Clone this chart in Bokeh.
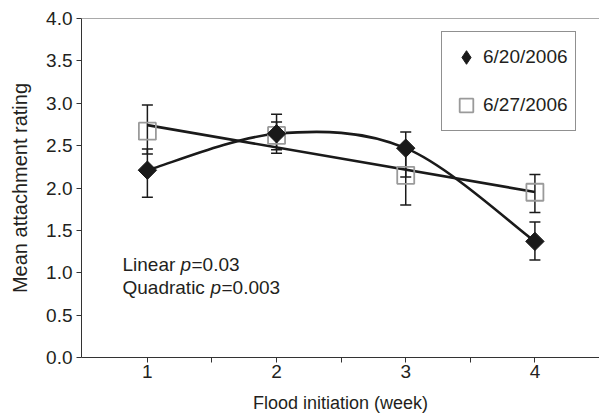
import numpy as np
from bokeh.plotting import figure
from bokeh.models import (Range1d, FixedTicker, Whisker, TeeHead, ColumnDataSource,
                          Legend, LegendItem, Label, Span, PrintfTickFormatter)
from bokeh.embed import file_html
from bokeh.resources import INLINE

# ---- data ----
weeks = [1, 2, 3, 4]
d620_mean = [2.21, 2.64, 2.47, 1.37]
d620_upper = [2.46, 2.87, 2.66, 1.60]
d620_lower = [1.89, 2.41, 2.13, 1.15]
d627_mean = [2.67, 2.62, 2.15, 1.95]
d627_upper = [2.98, 2.78, 2.50, 2.16]
d627_lower = [2.40, 2.45, 1.80, 1.71]
series_names = ["6/20/2006", "6/27/2006"]
y_ticks = [0, 0.5, 1, 1.5, 2, 2.5, 3, 3.5, 4]
x_ticks = [1, 2, 3, 4]
x_minor = [1.5, 2.5, 3.5]
stats_text = [("Linear ", "p", "=0.03"), ("Quadratic ", "p", "=0.003")]

FONT = "Liberation Sans"
TXT = "#231f20"
BLK = "#1a1a1a"
GRAY = "#9a9a9a"

p = figure(width=599, height=415, output_backend="svg", toolbar_location=None,
           x_range=Range1d(0.49, 4.5), y_range=Range1d(0, 4),
           min_border_left=81, min_border_right=0, min_border_top=18, min_border_bottom=10)
p.outline_line_color = None
p.grid.grid_line_color = None
p.background_fill_color = "white"
p.border_fill_color = "white"

# axes
p.xaxis.ticker = FixedTicker(ticks=x_ticks, minor_ticks=x_minor)
p.yaxis.ticker = FixedTicker(ticks=y_ticks)
p.yaxis.formatter = PrintfTickFormatter(format="%.1f")
for ax in (p.xaxis[0], p.yaxis[0]):
    ax.axis_line_color = "#333333"
    ax.major_tick_line_color = "#333333"
    ax.major_tick_in = 0
    ax.major_tick_out = 5
    ax.major_label_text_font = FONT
    ax.major_label_text_font_size = "19px"
    ax.major_label_text_color = TXT
    ax.axis_label_text_font = FONT
    ax.axis_label_text_font_style = "normal"
    ax.axis_label_text_color = TXT
p.xaxis.axis_label_text_font_size = "18px"
p.yaxis.axis_label_text_font_size = "20px"
p.xaxis.minor_tick_line_color = "#333333"
p.xaxis.minor_tick_in = 0
p.xaxis.minor_tick_out = 5
p.yaxis.minor_tick_line_color = None
p.xaxis.axis_label = "Flood initiation (week)"
p.yaxis.axis_label = "Mean attachment rating"
p.xaxis.major_label_standoff = 2
p.xaxis.axis_label_standoff = 12
p.yaxis.major_label_standoff = 4
p.yaxis.axis_label_standoff = 12

p.add_layout(Span(location=y_ticks[-1], dimension="width", line_color="#555555", line_width=1))

src620 = ColumnDataSource(dict(x=weeks, y=d620_mean, up=d620_upper, lo=d620_lower))
src627 = ColumnDataSource(dict(x=weeks, y=d627_mean, up=d627_upper, lo=d627_lower))

# error bars
for src in (src627, src620):
    w = Whisker(source=src, base="x", upper="up", lower="lo", line_color=BLK, line_width=1.5,
                upper_head=TeeHead(size=11, line_color=BLK, line_width=1.5),
                lower_head=TeeHead(size=11, line_color=BLK, line_width=1.5))
    p.add_layout(w)

# linear trend for 6/27
coef = np.polyfit(weeks, d627_mean, 1)
xl = [weeks[0], weeks[-1]]
p.line(xl, list(np.polyval(coef, xl)), line_color=BLK, line_width=2.6)

# smoothed line through 6/20 points (Bezier, Catmull-Rom style)
xs = np.array(weeks, dtype=float)
ys = np.array(d620_mean, dtype=float)
n = len(xs)
x0, y0, x1, y1, cx0, cy0, cx1, cy1 = [], [], [], [], [], [], [], []
for i in range(n - 1):
    ip = max(i - 1, 0)
    inn = min(i + 2, n - 1)
    x0.append(xs[i]); y0.append(ys[i]); x1.append(xs[i + 1]); y1.append(ys[i + 1])
    cx0.append(xs[i] + (xs[i + 1] - xs[ip]) / 6); cy0.append(ys[i] + (ys[i + 1] - ys[ip]) / 6)
    cx1.append(xs[i + 1] - (xs[inn] - xs[i]) / 6); cy1.append(ys[i + 1] - (ys[inn] - ys[i]) / 6)
p.bezier(x0=x0, y0=y0, x1=x1, y1=y1, cx0=cx0, cy0=cy0, cx1=cx1, cy1=cy1,
         line_color=BLK, line_width=2.6)

r627 = p.scatter("x", "y", source=src627, marker="square", size=17,
                 fill_color=None, line_color=GRAY, line_width=1.8)
# legend key for the diamonds (legend keys are drawn unrotated); hidden under the markers
k620 = p.scatter("x", "y", source=src620, marker="diamond", size=10,
                 fill_color=BLK, line_color=BLK, line_width=1)
r620 = p.scatter("x", "y", source=src620, marker="square", size=13, angle=np.pi / 4,
                 fill_color=BLK, line_color=BLK, line_width=1)

legend = Legend(items=[LegendItem(label=series_names[0], renderers=[k620]),
                       LegendItem(label=series_names[1], renderers=[r627])],
                location=(360, 226), glyph_width=34, glyph_height=36, label_height=36,
                label_width=0, spacing=12, padding=7, margin=0, label_standoff=0,
                border_line_color="#222222", border_line_width=1,
                label_text_font=FONT, label_text_font_size="19px", label_text_color=TXT,
                background_fill_alpha=1)
p.add_layout(legend)

# statistics annotation
offsets = [(41, 82.5, 58), (41, 60, 88)]
for (pre, it, post), (lx, ly, w) in zip(stats_text, offsets):
    p.add_layout(Label(x=lx, y=ly, x_units="screen", y_units="screen", text=pre,
                       text_font=FONT, text_font_size="19px", text_color=TXT))
    p.add_layout(Label(x=lx + w, y=ly, x_units="screen", y_units="screen", text=it,
                       text_font=FONT, text_font_size="19px", text_font_style="italic",
                       text_color=TXT))
    p.add_layout(Label(x=lx + w + 11, y=ly, x_units="screen", y_units="screen", text=post,
                       text_font=FONT, text_font_size="19px", text_color=TXT))

open("out.html", "w").write(file_html(p, INLINE))
